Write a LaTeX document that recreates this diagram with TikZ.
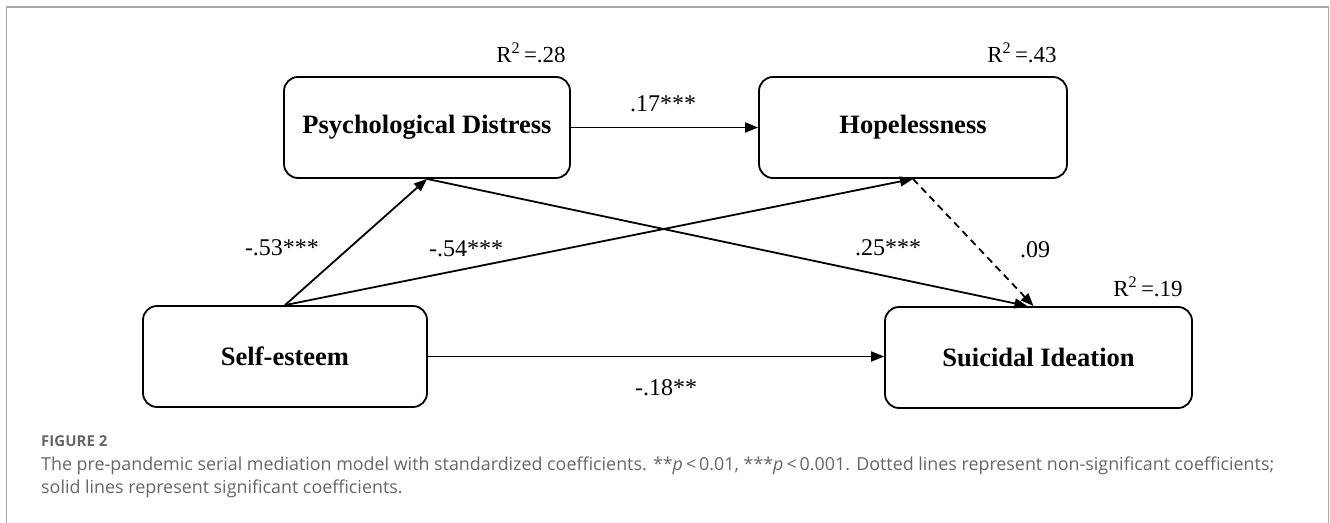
\documentclass[tikz,border=0pt]{standalone}
\usepackage{fontspec}
\usepackage{graphicx}
\setmainfont{Liberation Serif}
\newfontfamily\capfont{Open Sans}
\usetikzlibrary{arrows.meta}
\definecolor{framegray}{HTML}{A8A8A8}
\definecolor{capgray}{HTML}{666666}
\begin{document}
\begin{tikzpicture}[x=1pt,y=-1pt,
  varbox/.style={draw=black, line width=1.8pt, rounded corners=14pt, align=center,
    minimum height=101pt, inner sep=0pt, font=\fontsize{26.5}{30}\selectfont\bfseries},
  path/.style={line width=1.8pt, -{Triangle[length=13pt,width=10pt]}},
  coef/.style={font=\fontsize{24}{28}\selectfont, inner sep=0pt},
  rsq/.style={font=\fontsize{23}{27}\selectfont, inner sep=0pt},
  capline/.style={font=\capfont\fontsize{18}{24}\selectfont, text=capgray, anchor=base west, inner sep=0pt}
]
\useasboundingbox (0,0) rectangle (1330,522);
% frame
\draw[framegray, line width=1.5pt] (6.5,530) -- (6.5,7) -- (1328.5,7) -- (1328.5,530);

% boxes
\node[varbox, minimum width=286pt] (PD) at (427,127.5) {Psychological Distress};
\node[varbox, minimum width=308pt] (H) at (913,127.5) {Hopelessness};
\node[varbox, minimum width=284pt] (SE) at (285,356.5) {Self-esteem};
\node[varbox, minimum width=307pt] (SI) at (1038.5,357.5) {Suicidal Ideation};

\coordinate (sia) at ([xshift=-11pt]SI.north);
\coordinate (sib) at ([xshift=-5pt]SI.north);

% paths
\draw[path] (PD.east) -- (H.west);
\draw[path] (SE.north) -- (PD.south);
\draw[path] (SE.north) -- (H.south);
\draw[path] (PD.south) -- (sia);
\draw[path, dashed, dash pattern=on 7pt off 5pt] (H.south) -- (sib);
\draw[path] (SE.east) -- (SI.west |- SE.east);

% coefficient labels
\node[coef] (c1) at (663,104) {.17***};
\node[coef] (c2) at (282,248) {-.53***};
\node[coef] (c3) at (466,249) {-.54***};
\node[coef] (c4) at (888,248) {.25***};
\node[coef] (c5) at (1035,250) {.09};
\node[coef] (c6) at (666,388) {-.18**};

% R squared
\node[rsq] (r1) at (531,53) {R\textsuperscript{2}\,=.28};
\node[rsq] (r2) at (1022,53) {R\textsuperscript{2}\,=.43};
\node[rsq] (r3) at (1148,287) {R\textsuperscript{2}\,=.19};

% caption
\node[capline, font=\capfont\fontsize{15}{18}\selectfont\bfseries] (fig) at (41,446) {FIGURE 2};
\node[capline] (cap) at (41,470) {\resizebox{1233pt}{!}{\begin{tabular}[t]{@{}l@{}}The pre-pandemic serial mediation model with standardized coefficients. **\textit{p}\,<\,0.01, ***\textit{p}\,<\,0.001. Dotted lines represent non-significant coefficients;\\solid lines represent significant coefficients.\end{tabular}}};
\end{tikzpicture}
\end{document}
